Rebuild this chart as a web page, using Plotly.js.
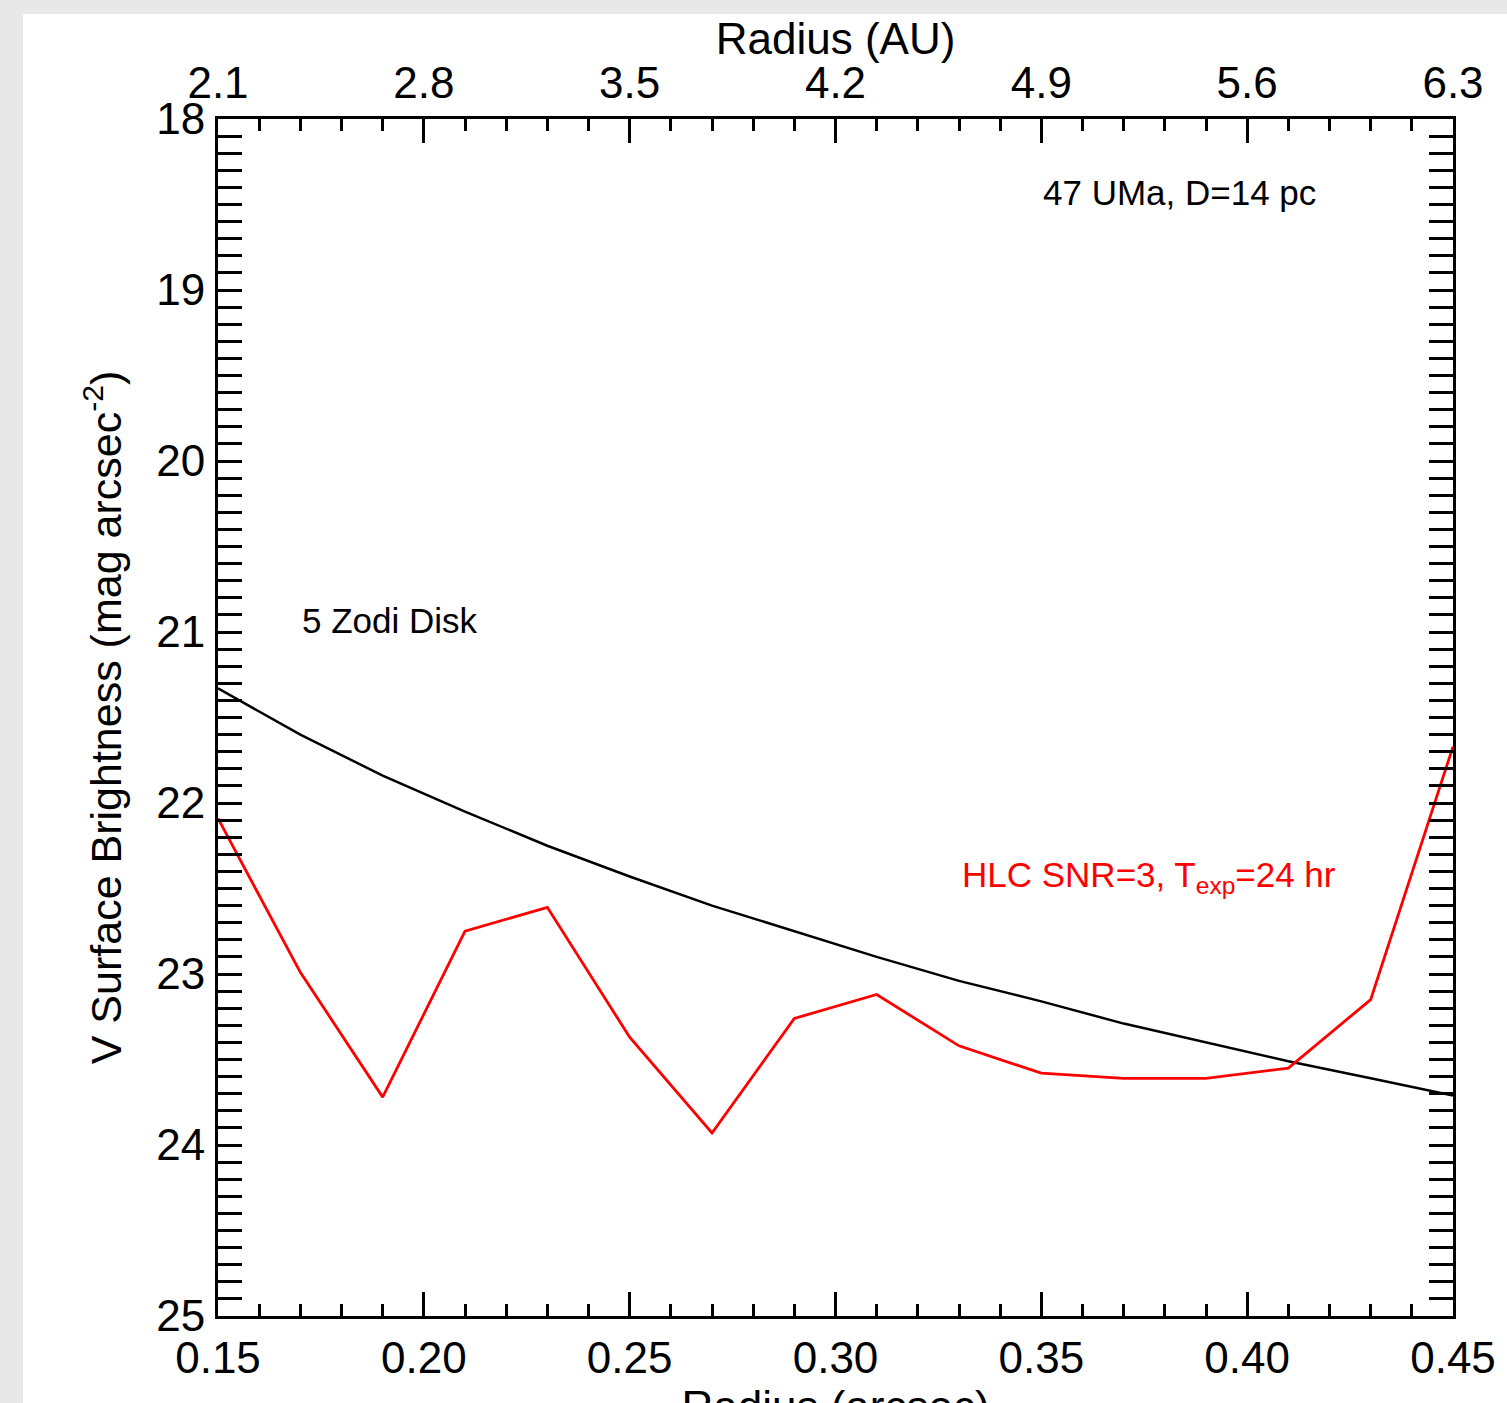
<!DOCTYPE html>
<html>
<head>
<meta charset="utf-8">
<script src="https://cdn.plot.ly/plotly-3.0.1.min.js"></script>
<style>
html, body { margin: 0; padding: 0; background: #e8e8e8; width: 1507px; height: 1403px; overflow: hidden; }
#chart { position: absolute; left: 23px; top: 14px; width: 1484px; height: 1460px; background: #ffffff; }
</style>
</head>
<body>
<div id="chart"></div>
<script>
// Radius in arcsec
const radiusArcsec = [0.15, 0.17, 0.19, 0.21, 0.23, 0.25, 0.27, 0.29, 0.31, 0.33, 0.35, 0.37, 0.39, 0.41, 0.43, 0.45];
// 5 Zodi disk surface brightness (mag arcsec^-2)
const zodiDisk = [21.33, 21.60, 21.84, 22.05, 22.25, 22.43, 22.60, 22.75, 22.90, 23.04, 23.16, 23.29, 23.40, 23.51, 23.61, 23.71];
// HLC SNR=3, Texp=24 hr sensitivity
const hlcLimit = [22.09, 22.99, 23.72, 22.75, 22.61, 23.37, 23.93, 23.26, 23.12, 23.42, 23.58, 23.61, 23.61, 23.55, 23.15, 21.67];
// Axis ranges / ticks
const xRange = [0.15, 0.45];
const auRange = [2.1, 6.3];
const yRange = [25, 18];
const yTickVals = [18, 19, 20, 21, 22, 23, 24, 25];
const labels = {
  xTitle: 'Radius (arcsec)',
  x2Title: 'Radius (AU)',
  yTitle: 'V Surface Brightness (mag arcsec<sup>-2</sup>)',
  star: '47 UMa, D=14 pc',
  zodi: '5 Zodi Disk',
  hlc: 'HLC SNR=3, T<sub>exp</sub>=24 hr'
};

const FONT = 'Liberation Sans, Arial, Helvetica, sans-serif';

// minor tick positions on the magnitude axis: every 0.1 mag
const yMinor = [];
for (let i = 0; i <= 70; i++) { if (i % 10 !== 0) yMinor.push(+(18 + i / 10).toFixed(1)); }

const traces = [
  { x: radiusArcsec, y: zodiDisk, type: 'scatter', mode: 'lines', line: { color: '#000000', width: 2.5 }, showlegend: false, hoverinfo: 'skip' },
  { x: radiusArcsec, y: hlcLimit, type: 'scatter', mode: 'lines', line: { color: '#ff0000', width: 2.8 }, showlegend: false, hoverinfo: 'skip' }
];

const tickCommon = {
  ticks: 'inside', ticklen: 24, tickwidth: 3, tickcolor: '#000',
  showline: true, linecolor: '#000', linewidth: 3,
  showgrid: false, zeroline: false,
  tickfont: { family: FONT, size: 44, color: '#000' }
};

const layout = {
  width: 1484, height: 1460,
  margin: { l: 195, r: 54, t: 105, b: 158 },
  paper_bgcolor: '#ffffff', plot_bgcolor: '#ffffff',
  font: { family: FONT, color: '#000' },
  showlegend: false,
  xaxis: Object.assign({}, tickCommon, {
    range: xRange, tick0: 0.15, dtick: 0.05, tickformat: '.2f',
    minor: { dtick: 0.01, ticks: 'inside', ticklen: 12, tickwidth: 3, tickcolor: '#000' },
    mirror: false, automargin: false, ticklabelstandoff: 1,
    title: { text: labels.xTitle, font: { family: FONT, size: 44, color: '#000' }, standoff: 8 }
  }),
  xaxis2: Object.assign({}, tickCommon, {
    range: auRange, tick0: 2.1, dtick: 0.7, tickformat: '.1f',
    overlaying: 'x', side: 'top', anchor: 'y',
    minor: { dtick: 0.14, ticks: 'inside', ticklen: 12, tickwidth: 3, tickcolor: '#000' },
    automargin: false, ticklabelstandoff: 0,
    title: { text: labels.x2Title, font: { family: FONT, size: 44, color: '#000' }, standoff: 0 }
  }),
  yaxis: Object.assign({}, tickCommon, {
    range: yRange, tickmode: 'array', tickvals: yTickVals,
    minor: { tickmode: 'array', tickvals: yMinor, ticks: 'inside', ticklen: 12, tickwidth: 3, tickcolor: '#000' },
    mirror: 'allticks', automargin: false, ticklabelstandoff: 1,
    title: { text: labels.yTitle, font: { family: FONT, size: 43, color: '#000' }, standoff: 22 }
  }),
  annotations: [
    { text: labels.star, xref: 'x', yref: 'y', x: 0.35, y: 18.43, xanchor: 'left', yanchor: 'middle', showarrow: false, font: { family: FONT, size: 35, color: '#000' } },
    { text: labels.zodi, xref: 'x', yref: 'y', x: 0.17, y: 20.93, xanchor: 'left', yanchor: 'middle', showarrow: false, font: { family: FONT, size: 35, color: '#000' } },
    { text: labels.hlc, xref: 'x', yref: 'y', x: 0.3302, y: 22.43, xanchor: 'left', yanchor: 'middle', showarrow: false, font: { family: FONT, size: 35, color: '#ff0000' } }
  ]
};

// invisible trace to register the top AU axis
traces.push({ x: auRange, y: [null, null], xaxis: 'x2', yaxis: 'y', type: 'scatter', mode: 'lines', showlegend: false, hoverinfo: 'skip' });

Plotly.newPlot('chart', traces, layout, { staticPlot: true, displayModeBar: false });
</script>
</body>
</html>
